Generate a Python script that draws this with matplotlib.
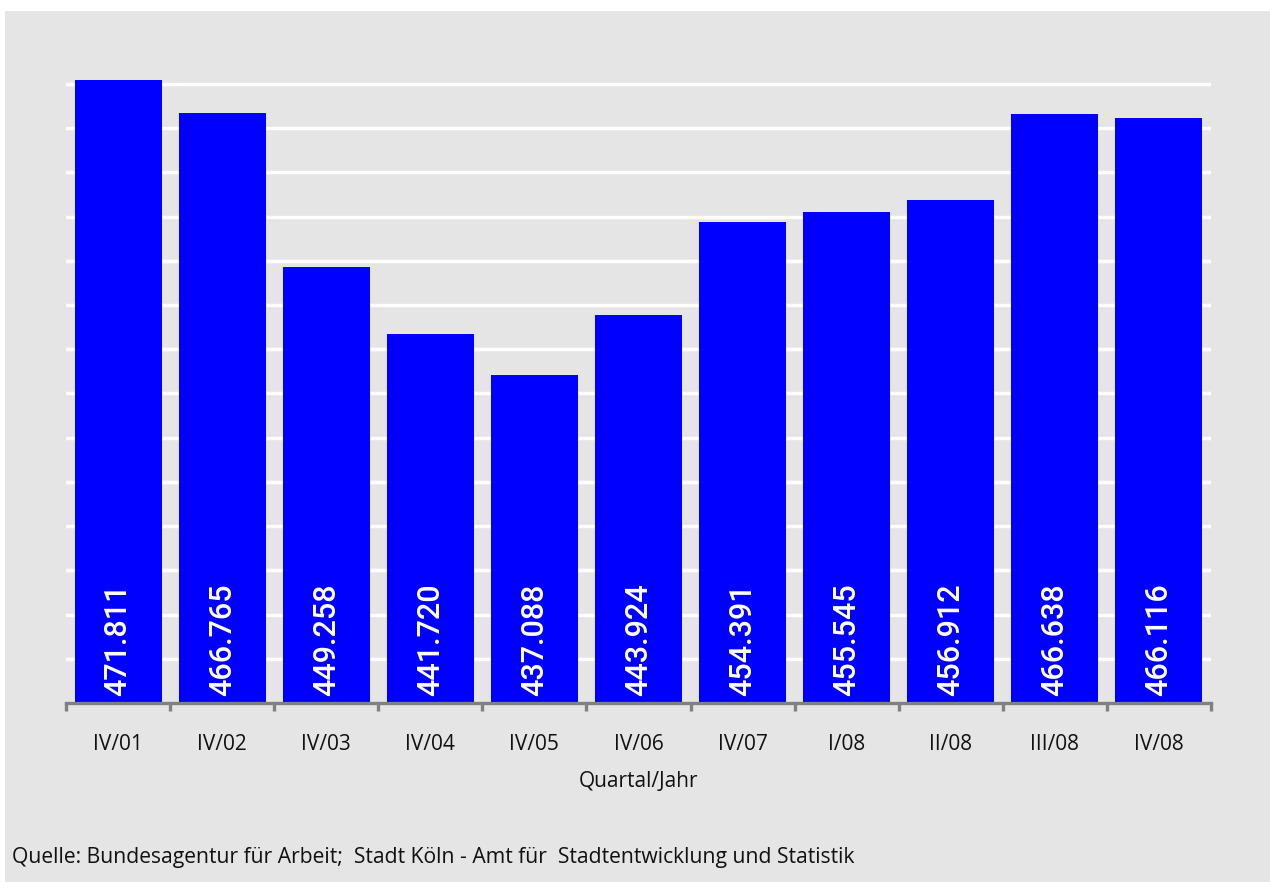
import matplotlib
matplotlib.use("Agg")
import matplotlib.pyplot as plt
from matplotlib.patches import Rectangle
from matplotlib.ticker import FixedLocator, NullFormatter

categories = ["IV/01", "IV/02", "IV/03", "IV/04", "IV/05", "IV/06", "IV/07",
              "I/08", "II/08", "III/08", "IV/08"]
values = [471.811, 466.765, 449.258, 441.720, 437.088, 443.924, 454.391,
          455.545, 456.912, 466.638, 466.116]
value_labels = ["471.811", "466.765", "449.258", "441.720", "437.088", "443.924",
                "454.391", "455.545", "456.912", "466.638", "466.116"]
xlabel = "Quartal/Jahr"
source = "Quelle: Bundesagentur für Arbeit;  Stadt Köln - Amt für  Stadtentwicklung und Statistik"

W, H = 1270, 882
plt.rcParams['font.family'] = ['Open Sans', 'DejaVu Sans']

fig = plt.figure(figsize=(W / 100, H / 100), dpi=100, facecolor="white")

# grey panel
fig.patches.append(Rectangle((5 / W, 0), 1 - 5 / W, (H - 11) / H,
                             transform=fig.transFigure, facecolor="#e5e5e5",
                             edgecolor="none", zorder=-5))

ax_left, ax_right = 66 / W, 1211 / W
ax_bottom, ax_top = (H - 703) / H, (H - 80) / H
ax = fig.add_axes([ax_left, ax_bottom, ax_right - ax_left, ax_top - ax_bottom])
ax.set_zorder(1)
ax.set_facecolor("none")

x = list(range(len(categories)))
ax.bar(x, values, width=0.835, color="#0000ff", zorder=3)
ax.set_xlim(-0.5, len(categories) - 0.5)
ax.set_ylim(400, 400 + (703 - 80) / 8.843)

# grid
ax.yaxis.set_major_locator(FixedLocator([405 + 5 * i for i in range(14)]))
ax.yaxis.grid(True, color="white", linewidth=2.5, zorder=1)
ax.set_axisbelow(True)
ax.tick_params(axis="y", left=False, labelleft=False)

for s in ["left", "right", "top"]:
    ax.spines[s].set_visible(False)
ax.spines["bottom"].set_color("#808080")
ax.spines["bottom"].set_linewidth(2.4)
ax.spines["bottom"].set_zorder(4)

ax.set_xticks(x)
ax.set_xticklabels(categories, fontsize=15, color="#111111")
ax.tick_params(axis="x", which="major", length=0, pad=22)
ax.xaxis.set_minor_locator(FixedLocator([i - 0.5 for i in range(len(categories) + 1)]))
ax.xaxis.set_minor_formatter(NullFormatter())
ax.tick_params(axis="x", which="minor", length=6, width=2.4, color="#808080")

ax.set_xlabel(xlabel, fontsize=15, color="#111111", labelpad=12)

for xi, lab in zip(x, value_labels):
    ax.annotate(lab, xy=(xi, 400), xytext=(0, 5), textcoords="offset points",
                rotation=90, ha="center", va="bottom", color="white",
                fontsize=22, family=["Roboto", "DejaVu Sans"], fontweight="medium",
                zorder=5)

fig.text(12 / W, (H - 858) / H, source, fontsize=15.2, color="#111111",
         ha="left", va="center")

fig.savefig("out.png", dpi=100, facecolor="white")
